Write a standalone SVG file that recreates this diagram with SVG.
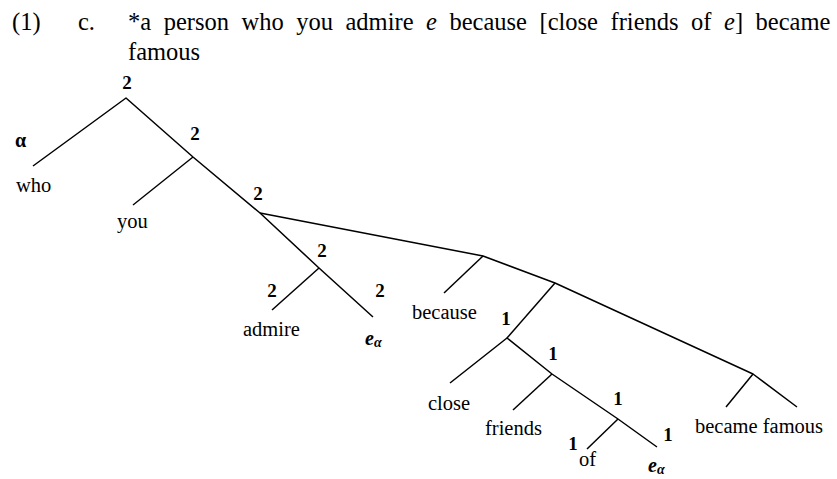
<svg xmlns="http://www.w3.org/2000/svg" width="837" height="479" viewBox="0 0 837 479">
<style>
.t{font-family:"Liberation Serif","Times New Roman",serif;fill:#000}
.title{font-size:24.5px}
.w{font-size:20.5px}
.n{font-size:19px;font-weight:bold;text-anchor:middle}
.e{font-size:20px;font-weight:bold;font-style:italic}
.sub{font-size:14px}
.ln{stroke:#000;stroke-width:1.5;fill:none;stroke-linejoin:round}
</style>
<rect width="837" height="479" fill="#fff"/>
<g id="title">
<text class="t title" x="12" y="30">(1)</text>
<text class="t title" x="78" y="30">c.</text>
<text class="t title" x="128" y="30" word-spacing="6.4">*a person who you admire <tspan font-style="italic">e</tspan> because [close friends of <tspan font-style="italic">e</tspan>] became</text>
<text class="t title" x="128" y="60">famous</text>
</g>
<g id="connectors">
<polyline class="ln" points="33,166 126,98 193,157 260,213 319,268 373,317"/>
<line class="ln" x1="193" y1="157" x2="133" y2="205"/>
<polyline class="ln" points="260,213 483,256 555,283 753,374"/>
<line class="ln" x1="483" y1="256" x2="444" y2="293"/>
<line class="ln" x1="319" y1="268" x2="272" y2="310"/>
<line class="ln" x1="555" y1="283" x2="507" y2="338"/>
<polyline class="ln" points="450,383 507,338 552,374 618,419 657,447"/>
<line class="ln" x1="552" y1="374" x2="513" y2="410"/>
<line class="ln" x1="618" y1="419" x2="587" y2="449"/>
<polyline class="ln" points="726,407 753,374 797,407"/>
</g>
<g id="root"><text class="t n" x="127" y="89">2</text></g>
<g id="alpha"><text class="t" x="15" y="147" font-size="20" font-weight="bold">α</text></g>
<g id="who"><text class="t w" x="16" y="192">who</text></g>
<g id="n2a"><text class="t n" x="195" y="140">2</text></g>
<g id="you"><text class="t w" x="117" y="228">you</text></g>
<g id="n2b"><text class="t n" x="258" y="200">2</text></g>
<g id="n2c"><text class="t n" x="322" y="257">2</text></g>
<g id="n2d"><text class="t n" x="272" y="297">2</text></g>
<g id="admire"><text class="t w" x="243" y="336">admire</text></g>
<g id="n2e"><text class="t n" x="380" y="297">2</text></g>
<g id="e1"><text class="t e" x="365" y="345">e<tspan class="sub" dy="2">α</tspan></text></g>
<g id="because"><text class="t w" x="412" y="319">because</text></g>
<g id="n1a"><text class="t n" x="506" y="325">1</text></g>
<g id="close"><text class="t w" x="428" y="410">close</text></g>
<g id="n1b"><text class="t n" x="553" y="360">1</text></g>
<g id="friends"><text class="t w" x="485" y="435">friends</text></g>
<g id="n1c"><text class="t n" x="618" y="405">1</text></g>
<g id="n1d"><text class="t n" x="573" y="450">1</text></g>
<g id="of"><text class="t w" x="579" y="466">of</text></g>
<g id="e2"><text class="t e" x="648" y="472">e<tspan class="sub" dy="2">α</tspan></text></g>
<g id="n1e"><text class="t n" x="668" y="441">1</text></g>
<g id="became-famous"><text class="t w" x="695" y="433">became famous</text></g>
</svg>
